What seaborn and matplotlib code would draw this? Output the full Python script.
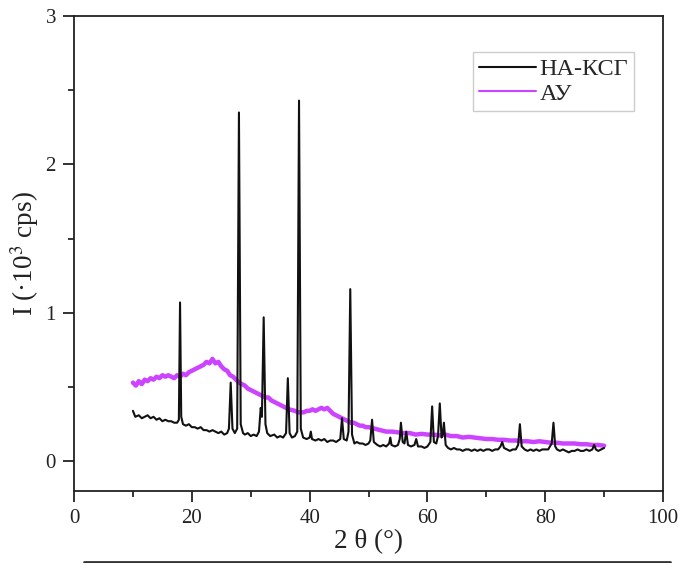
import matplotlib
matplotlib.use("Agg")
import matplotlib.pyplot as plt
from matplotlib.lines import Line2D
from matplotlib.ticker import MultipleLocator
import seaborn as sns
import pandas as pd

# XRD pattern of the НА-КСГ sample (2θ in degrees, intensity in 10^3 cps)
theta_hak = [
    10.0, 10.4, 11.0, 11.5, 12.0, 12.5, 13.0, 13.5, 14.0, 14.5, 15.0, 15.5, 16.0, 16.5,
    17.0, 17.5, 17.8, 18.0, 18.2, 18.5, 19.0, 19.5, 20.0, 20.5, 21.0, 21.5, 22.0, 22.5,
    23.0, 23.5, 24.0, 24.5, 25.0, 25.5, 26.0, 26.3, 26.6, 26.9, 27.3, 27.7, 28.0, 28.3,
    28.7, 29.0, 29.5, 30.0, 30.5, 31.0, 31.4, 31.7, 31.9, 32.2, 32.5, 32.8, 33.3, 34.0,
    34.5, 35.0, 35.5, 36.0, 36.3, 36.6, 37.0, 37.5, 37.9, 38.2, 38.5, 38.9, 39.5, 40.0,
    40.2, 40.4, 41.0, 41.5, 42.0, 42.5, 43.0, 43.5, 44.0, 44.5, 45.2, 45.5, 45.8, 46.3,
    46.6, 46.9, 47.2, 47.6, 48.0, 48.5, 49.0, 49.5, 50.0, 50.3, 50.6, 50.9, 51.5, 52.0,
    52.5, 53.0, 53.5, 53.7, 53.9, 54.5, 55.0, 55.3, 55.5, 55.8, 56.1, 56.4, 56.7, 57.2,
    57.8, 58.1, 58.4, 59.0, 59.5, 60.0, 60.5, 60.8, 61.1, 61.5, 61.8, 62.1, 62.4, 62.6,
    62.8, 63.1, 63.5, 64.0, 64.5, 65.0, 65.5, 66.0, 66.5, 67.0, 67.5, 68.0, 68.5, 69.0,
    69.5, 70.0, 70.5, 71.0, 71.5, 72.0, 72.4, 72.7, 73.0, 73.5, 74.0, 74.5, 75.0, 75.4,
    75.7, 76.0, 76.5, 77.0, 77.5, 78.0, 78.5, 79.0, 79.5, 80.0, 80.5, 81.1, 81.4, 81.7,
    82.0, 82.5, 83.0, 83.5, 84.0, 84.5, 85.0, 85.5, 86.0, 86.5, 87.0, 87.5, 88.0, 88.3,
    88.6, 89.0, 89.5, 90.0,
]
intensity_hak = [
    0.34, 0.30, 0.31, 0.29, 0.30, 0.31, 0.29, 0.30, 0.28, 0.29, 0.27, 0.28, 0.27, 0.27,
    0.26, 0.26, 0.28, 1.07, 0.30, 0.25, 0.24, 0.25, 0.23, 0.23, 0.22, 0.23, 0.21, 0.21,
    0.20, 0.21, 0.20, 0.19, 0.20, 0.18, 0.19, 0.22, 0.53, 0.22, 0.19, 0.22, 2.35, 0.25,
    0.19, 0.18, 0.19, 0.17, 0.18, 0.17, 0.20, 0.36, 0.30, 0.97, 0.25, 0.19, 0.17, 0.18,
    0.16, 0.17, 0.16, 0.19, 0.56, 0.19, 0.16, 0.17, 0.20, 2.43, 0.22, 0.16, 0.15, 0.16,
    0.20, 0.15, 0.14, 0.15, 0.14, 0.15, 0.13, 0.14, 0.14, 0.13, 0.15, 0.29, 0.15, 0.14,
    0.20, 1.16, 0.18, 0.12, 0.13, 0.12, 0.12, 0.11, 0.12, 0.14, 0.28, 0.13, 0.11, 0.10,
    0.11, 0.10, 0.12, 0.16, 0.11, 0.10, 0.11, 0.15, 0.26, 0.13, 0.12, 0.20, 0.11, 0.10,
    0.11, 0.15, 0.10, 0.10, 0.09, 0.10, 0.13, 0.37, 0.13, 0.12, 0.17, 0.39, 0.16, 0.18,
    0.26, 0.11, 0.09, 0.08, 0.09, 0.08, 0.08, 0.07, 0.08, 0.08, 0.07, 0.08, 0.07, 0.08,
    0.07, 0.08, 0.08, 0.07, 0.08, 0.08, 0.10, 0.13, 0.09, 0.08, 0.07, 0.08, 0.08, 0.11,
    0.25, 0.10, 0.08, 0.07, 0.08, 0.07, 0.08, 0.07, 0.08, 0.08, 0.08, 0.12, 0.26, 0.10,
    0.08, 0.07, 0.08, 0.07, 0.06, 0.07, 0.07, 0.08, 0.07, 0.07, 0.08, 0.07, 0.08, 0.11,
    0.08, 0.07, 0.08, 0.09,
]

# XRD pattern of the АУ sample (amorphous halo)
theta_au = [
    10.0, 10.5, 11.0, 11.5, 12.0, 12.5, 13.0, 13.5, 14.0, 14.5, 15.0, 15.5, 16.0, 16.5,
    17.0, 17.5, 18.0, 18.5, 19.0, 19.5, 20.0, 20.5, 21.0, 21.5, 22.0, 22.5, 23.0, 23.5,
    24.0, 24.5, 25.0, 25.5, 26.0, 26.5, 27.0, 27.5, 28.0, 28.5, 29.0, 29.5, 30.0, 30.5,
    31.0, 31.5, 32.0, 32.5, 33.0, 33.5, 34.0, 34.5, 35.0, 35.5, 36.0, 36.5, 37.0, 37.5,
    38.0, 38.5, 39.0, 39.5, 40.0, 40.5, 41.0, 41.5, 42.0, 42.5, 43.0, 43.5, 44.0, 44.5,
    45.0, 45.5, 46.0, 46.5, 47.0, 47.5, 48.0, 48.5, 49.0, 49.5, 50.0, 51.0, 52.0, 53.0,
    54.0, 55.0, 56.0, 57.0, 58.0, 59.0, 60.0, 61.0, 62.0, 63.0, 64.0, 65.0, 66.0, 67.0,
    68.0, 69.0, 70.0, 71.0, 72.0, 73.0, 74.0, 75.0, 76.0, 77.0, 78.0, 79.0, 80.0, 81.0,
    82.0, 83.0, 84.0, 85.0, 86.0, 87.0, 88.0, 89.0, 90.0,
]
intensity_au = [
    0.53, 0.51, 0.54, 0.52, 0.55, 0.54, 0.56, 0.55, 0.57, 0.56, 0.58, 0.57, 0.58, 0.57,
    0.56, 0.58, 0.57, 0.59, 0.58, 0.60, 0.61, 0.62, 0.63, 0.64, 0.65, 0.67, 0.66, 0.69,
    0.66, 0.67, 0.64, 0.62, 0.61, 0.58, 0.57, 0.55, 0.53, 0.52, 0.51, 0.49, 0.48, 0.47,
    0.46, 0.45, 0.44, 0.43, 0.43, 0.41, 0.40, 0.39, 0.38, 0.37, 0.36, 0.35, 0.345, 0.34,
    0.33, 0.33, 0.33, 0.34, 0.34, 0.35, 0.34, 0.35, 0.36, 0.35, 0.36, 0.34, 0.32, 0.31,
    0.30, 0.29, 0.28, 0.27, 0.26, 0.26, 0.25, 0.24, 0.24, 0.23, 0.23, 0.22, 0.21, 0.20,
    0.20, 0.195, 0.19, 0.19, 0.18, 0.185, 0.18, 0.18, 0.175, 0.18, 0.17, 0.17, 0.16, 0.165,
    0.16, 0.155, 0.15, 0.15, 0.145, 0.145, 0.14, 0.14, 0.135, 0.135, 0.13, 0.135, 0.13, 0.125,
    0.125, 0.12, 0.12, 0.12, 0.115, 0.115, 0.11, 0.11, 0.105,
]

series_names = ["НА-КСГ", "АУ"]
series_colors = ["#111111", "#cc44ff"]
x_ticks = [0, 20, 40, 60, 80, 100]
y_ticks = [0, 1, 2, 3]

df_hak = pd.DataFrame({"theta": theta_hak, "I": intensity_hak})
df_au = pd.DataFrame({"theta": theta_au, "I": intensity_au})

sns.set_theme(style="ticks")
plt.rcParams["font.family"] = ["Liberation Serif", "DejaVu Serif"]
plt.rcParams["mathtext.fontset"] = "stix"

fig = plt.figure(figsize=(6.81, 5.63), dpi=100)
ax = fig.add_axes([0.1087, 0.1279, 0.8649, 0.8437])

sns.lineplot(data=df_au, x="theta", y="I", ax=ax, color=series_colors[1],
             linewidth=3.2, label=series_names[1], zorder=2, sort=False)
sns.lineplot(data=df_hak, x="theta", y="I", ax=ax, color=series_colors[0],
             linewidth=1.5, label=series_names[0], zorder=3, sort=False)

ax.set_xlim(0, 100)
ax.set_ylim(-0.2, 3)
ax.set_xticks(x_ticks)
ax.set_xticklabels([str(t) for t in x_ticks])
ax.set_yticks(y_ticks)
ax.set_yticklabels([str(t) for t in y_ticks])
ax.xaxis.set_minor_locator(MultipleLocator(10))
ax.yaxis.set_minor_locator(MultipleLocator(0.5))
ax.tick_params(axis="both", which="major", direction="out", length=8, width=1.3,
               labelsize=15, colors="#222222", pad=5)
ax.tick_params(axis="both", which="minor", direction="out", length=4.5, width=1.3)
ax.tick_params(top=False, right=False, which="both")
for side in ["left", "right", "top", "bottom"]:
    ax.spines[side].set_visible(True)
    ax.spines[side].set_linewidth(1.3)
    ax.spines[side].set_color("#222222")

ax.set_xlabel("2 θ (°)", fontsize=19.5, labelpad=1, color="#222222")
ax.set_ylabel(r"I (·10$^3$ cps)", fontsize=19.5, labelpad=3, color="#222222")

handles, labels = ax.get_legend_handles_labels()
order = [labels.index(n) for n in series_names]
leg = ax.legend([handles[i] for i in order], [labels[i] for i in order],
                loc="upper right", bbox_to_anchor=(0.951, 0.924), fontsize=17.5,
                frameon=True, fancybox=False, edgecolor="#cccccc", framealpha=1,
                handlelength=2.35, handletextpad=0.15, borderpad=0.25,
                labelspacing=0.1, borderaxespad=0)
leg.get_frame().set_linewidth(1.0)
for h in leg.get_lines():
    h.set_linewidth(1.5)

# rule beneath the figure
fig.add_artist(Line2D([84 / 681, 670 / 681], [1.5 / 563, 1.5 / 563],
                      transform=fig.transFigure, color="#333333", linewidth=2))

fig.savefig("out.png", dpi=100)
